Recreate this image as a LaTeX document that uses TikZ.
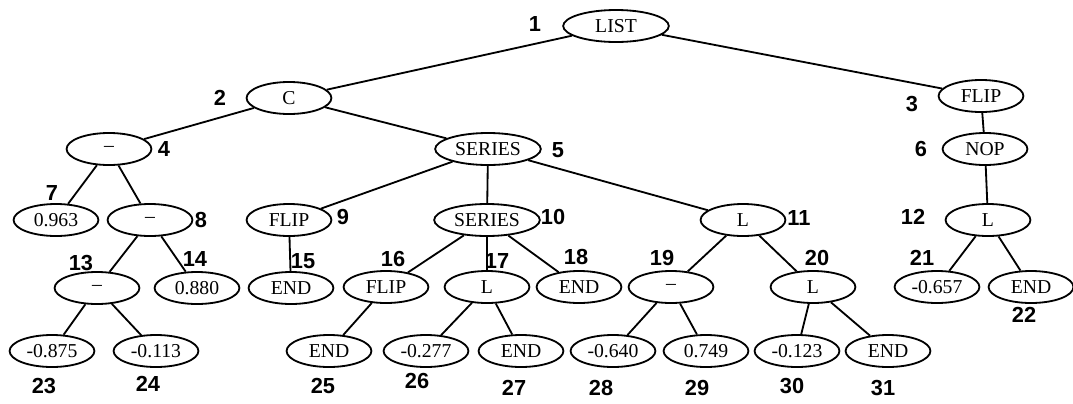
\documentclass[tikz,border=0pt]{standalone}
\usepackage{fontspec}
\setmainfont{Liberation Serif}
\newfontfamily\labelfont{Liberation Sans}
\usepackage{tikz}
\usetikzlibrary{shapes.geometric}

\begin{document}
\begin{tikzpicture}[
          x=0.025cm, y=-0.025cm,
          every node/.style={inner sep=0pt},
          tnode/.style={draw, ellipse, line width=1.3pt, minimum width=2.12cm, minimum height=0.8cm, font=\fontsize{14}{16}\selectfont},
          wide/.style={tnode, minimum width=2.64cm},
          num/.style={font=\labelfont\bfseries\fontsize{15.5}{17}\selectfont},
          edge/.style={line width=1.3pt}
      ]
      \useasboundingbox (0,0) rectangle (1073,403);

      % Nodes
      \node[wide] (n1) at (616,26) {LIST};
      \node[tnode] (n2) at (289,98) {C};
      \node[tnode] (n3) at (981,96) {FLIP};
      \node[tnode] (n4) at (109,149) {–};
      \node[wide] (n5) at (488,149) {SERIES};
      \node[tnode] (n6) at (985,149) {NOP};
      \node[tnode] (n7) at (56,220) {0.963};
      \node[tnode] (n8) at (150,220) {–};
      \node[tnode] (n9) at (289,220) {FLIP};
      \node[wide] (n10) at (487,220) {SERIES};
      \node[tnode] (n11) at (743,220) {L};
      \node[tnode] (n12) at (988,220) {L};
      \node[tnode] (n13) at (97,288) {–};
      \node[tnode] (n14) at (197,288) {0.880};
      \node[tnode] (n15) at (291,288) {END};
      \node[tnode] (n16) at (386,287) {FLIP};
      \node[tnode] (n17) at (487,287) {L};
      \node[tnode] (n18) at (579,287) {END};
      \node[tnode] (n19) at (671,287) {–};
      \node[tnode] (n20) at (813,287) {L};
      \node[tnode] (n21) at (937,287) {-0.657};
      \node[tnode] (n22) at (1031,287) {END};
      \node[tnode] (n23) at (52,351) {-0.875};
      \node[tnode] (n24) at (156,351) {-0.113};
      \node[tnode] (n25) at (329,351) {END};
      \node[tnode] (n26) at (426,351) {-0.277};
      \node[tnode] (n27) at (521,351) {END};
      \node[tnode] (n28) at (613,351) {-0.640};
      \node[tnode] (n29) at (706,351) {0.749};
      \node[tnode] (n30) at (797,351) {-0.123};
      \node[tnode] (n31) at (888,351) {END};

      % Numbers
      \foreach \n/\x/\y in {1/535/24, 2/220/98, 3/912/104, 4/164/149, 5/558/150,
          6/921/149, 7/52/193, 8/201/220, 9/343/217, 10/553/217, 11/799/218,
          12/913/217, 13/81/263, 14/195/259, 15/303/261, 16/393/259, 17/497/261,
          18/576/257, 19/662/258, 20/817/258, 21/922/258, 22/1024/315,
          23/44/386, 24/148/384, 25/323/386, 26/417/381, 27/514/388,
          28/601/388, 29/697/388, 30/792/386, 31/883/388}
        \node[num] (l\n) at (\x,\y) {\n};

      % Edges
      \foreach \a/\b in {1/2, 1/3, 2/4, 2/5, 3/6, 6/12, 4/7, 4/8, 5/9, 5/10, 5/11,
          8/13, 8/14, 9/15, 10/16, 10/17, 10/18, 11/19, 11/20, 12/21, 12/22,
          13/23, 13/24, 16/25, 17/26, 17/27, 19/28, 19/29, 20/30, 20/31}
        \draw[edge] (n\a) -- (n\b);

\end{tikzpicture}
\end{document}
